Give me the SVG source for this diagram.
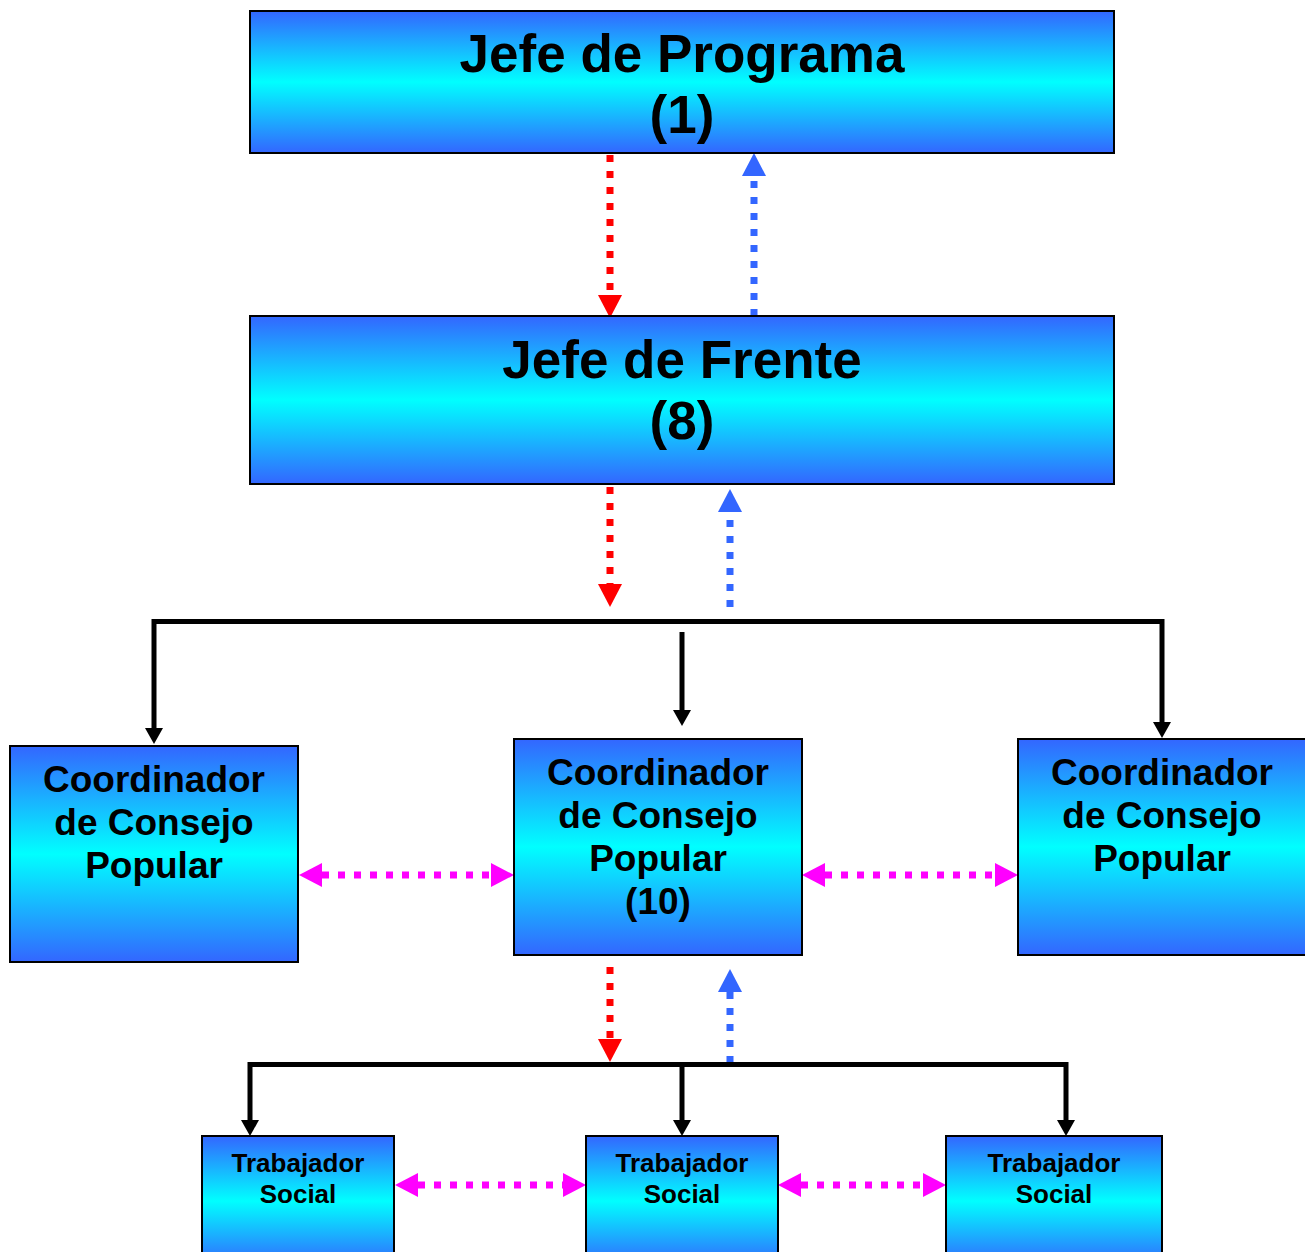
<svg xmlns="http://www.w3.org/2000/svg" width="1305" height="1252" viewBox="0 0 1305 1252">
<defs>
<linearGradient id="g" x1="0" y1="0" x2="0" y2="1">
<stop offset="0" stop-color="#3366FF"/>
<stop offset="0.5" stop-color="#00FFFF"/>
<stop offset="1" stop-color="#3366FF"/>
</linearGradient>
<marker id="aR" markerUnits="userSpaceOnUse" markerWidth="24" markerHeight="24" refX="0" refY="12" orient="auto" viewBox="0 0 24 24"><path d="M0,0 L23,12 L0,24 z" fill="#FF0000"/></marker>
<marker id="aB" markerUnits="userSpaceOnUse" markerWidth="24" markerHeight="24" refX="0" refY="12" orient="auto" viewBox="0 0 24 24"><path d="M0,0 L23,12 L0,24 z" fill="#3366FF"/></marker>
<marker id="aM" markerUnits="userSpaceOnUse" markerWidth="24" markerHeight="24" refX="0" refY="12" orient="auto-start-reverse" viewBox="0 0 24 24"><path d="M0,0 L23,12 L0,24 z" fill="#FF00FF"/></marker>
<marker id="aK" markerUnits="userSpaceOnUse" markerWidth="17" markerHeight="18" refX="0" refY="9" orient="auto-start-reverse" viewBox="0 0 17 18"><path d="M0,0 L16,9 L0,18 z" fill="#000"/></marker>
</defs>
<style>
.box{fill:url(#g);stroke:#000;stroke-width:2}
.t{font-family:"Liberation Sans",Arial,sans-serif;font-weight:bold;fill:#000;text-anchor:middle}
.big{font-size:53px}
.mid{font-size:37px}
.sm{font-size:26px}
.dot{fill:none;stroke-width:7;stroke-dasharray:7 9}
.red{stroke:#FF0000;marker-end:url(#aR)}
.blue{stroke:#3366FF;marker-end:url(#aB)}
.mag{stroke:#FF00FF;marker-start:url(#aM);marker-end:url(#aM)}
.blk{fill:none;stroke:#000;stroke-width:5}
</style>
<rect width="1305" height="1252" fill="#fff"/>

<g id="connectors">
<line class="dot red" x1="610" y1="155" x2="610" y2="295"/>
<line class="dot blue" x1="754" y1="316" x2="754" y2="176"/>
<line class="dot red" x1="610" y1="487" x2="610" y2="584"/>
<line class="dot blue" x1="730" y1="607" x2="730" y2="512"/>
<line class="dot red" x1="610" y1="967" x2="610" y2="1039"/>
<line class="dot blue" x1="730" y1="1063" x2="730" y2="992"/>
<line class="dot mag" x1="322" y1="875" x2="491" y2="875"/>
<line class="dot mag" x1="825" y1="875" x2="995" y2="875"/>
<line class="dot mag" x1="418" y1="1185" x2="563" y2="1185"/>
<line class="dot mag" x1="801" y1="1185" x2="923" y2="1185"/>
<path class="blk" d="M154,728 V621.5 H1162 V722" style="marker-start:url(#aK);marker-end:url(#aK)"/>
<path class="blk" d="M682,632 V710" style="marker-end:url(#aK)"/>
<path class="blk" d="M250,1120 V1064.5 H1066 V1120" style="marker-start:url(#aK);marker-end:url(#aK)"/>
<path class="blk" d="M682,1064.5 V1120" style="marker-end:url(#aK)"/>
</g>

<g id="jefe-programa">
<rect class="box" x="250" y="11" width="864" height="142"/>
<text class="t big" x="682" y="72">Jefe de Programa</text>
<text class="t big" x="682" y="133">(1)</text>
</g>

<g id="jefe-frente">
<rect class="box" x="250" y="316" width="864" height="168"/>
<text class="t big" x="682" y="378">Jefe de Frente</text>
<text class="t big" x="682" y="439">(8)</text>
</g>

<g id="coord-left">
<rect class="box" x="10" y="746" width="288" height="216"/>
<text class="t mid" x="154" y="792">Coordinador</text>
<text class="t mid" x="154" y="835">de Consejo</text>
<text class="t mid" x="154" y="878">Popular</text>
</g>

<g id="coord-mid">
<rect class="box" x="514" y="739" width="288" height="216"/>
<text class="t mid" x="658" y="785">Coordinador</text>
<text class="t mid" x="658" y="828">de Consejo</text>
<text class="t mid" x="658" y="871">Popular</text>
<text class="t mid" x="658" y="914">(10)</text>
</g>

<g id="coord-right">
<rect class="box" x="1018" y="739" width="288" height="216"/>
<text class="t mid" x="1162" y="785">Coordinador</text>
<text class="t mid" x="1162" y="828">de Consejo</text>
<text class="t mid" x="1162" y="871">Popular</text>
</g>

<g id="trab-1">
<rect class="box" x="202" y="1136" width="192" height="130"/>
<text class="t sm" x="298" y="1172">Trabajador</text>
<text class="t sm" x="298" y="1203">Social</text>
</g>

<g id="trab-2">
<rect class="box" x="586" y="1136" width="192" height="130"/>
<text class="t sm" x="682" y="1172">Trabajador</text>
<text class="t sm" x="682" y="1203">Social</text>
</g>

<g id="trab-3">
<rect class="box" x="946" y="1136" width="216" height="130"/>
<text class="t sm" x="1054" y="1172">Trabajador</text>
<text class="t sm" x="1054" y="1203">Social</text>
</g>
</svg>
